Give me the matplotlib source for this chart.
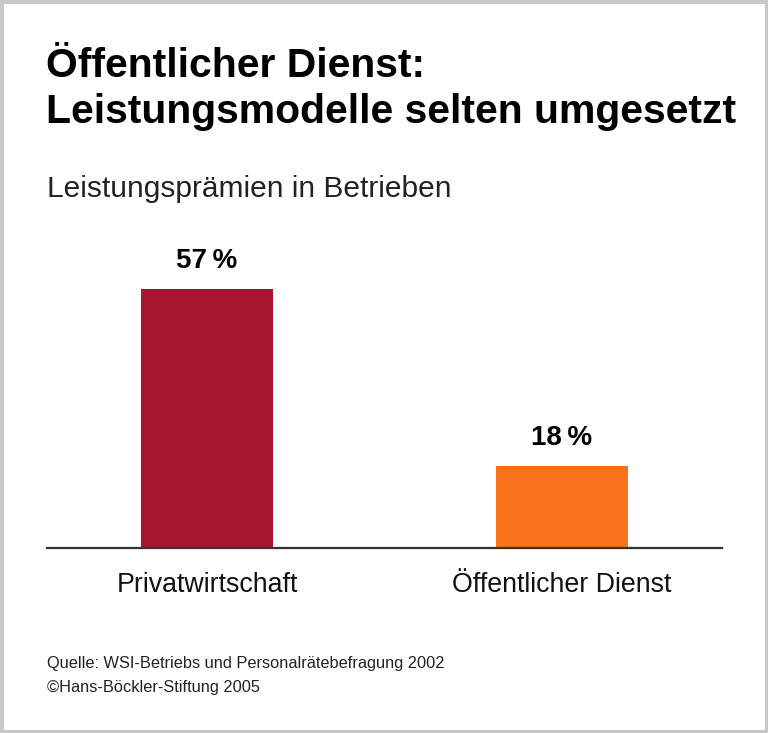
import matplotlib
matplotlib.use("Agg")
import matplotlib.pyplot as plt
from matplotlib.patches import Rectangle

categories = ["Privatwirtschaft", "Öffentlicher Dienst"]
values = [57, 18]
value_labels = ["57\u2009%", "18\u2009%"]
colors = ["#A8152E", "#F7731C"]

W, H = 768, 733
fig = plt.figure(figsize=(W / 100, H / 100), dpi=100)
plt.rcParams['font.family'] = ['Liberation Sans', 'DejaVu Sans']

def px(x, y):
    return x / W, 1 - y / H

# border
fig.patches.append(Rectangle((0, 0), 1, 1, transform=fig.transFigure,
                             facecolor="white", edgecolor="#C8C8C8", linewidth=5, zorder=-1))

# axes: x 47..722, baseline y 548, top y 230 (ylim 0..70)
left, right, bottom, top = 47, 722, 548, 230
ax = fig.add_axes([left / W, 1 - bottom / H, (right - left) / W, (bottom - top) / H])
ax.set_xlim(-0.4507, 1.4507)
ax.set_ylim(0, 70)
x = list(range(len(categories)))
ax.bar(x, values, width=0.372, color=colors)
for s in ["top", "right", "left"]:
    ax.spines[s].set_visible(False)
ax.spines["bottom"].set_color("#333333")
ax.spines["bottom"].set_linewidth(1.6)
ax.set_yticks([])
ax.set_xticks(x)
ax.set_xticklabels(categories, fontsize=19.3, color="#111111")
ax.tick_params(axis="x", length=0, pad=17)
for xi, v, lab in zip(x, values, value_labels):
    ax.annotate(lab, (xi, v), xytext=(0, 15), textcoords="offset points",
                ha="center", va="baseline", fontsize=20, fontweight="bold")
ax.patch.set_alpha(0)

fig.text(*px(46, 77), "Öffentlicher Dienst:", fontsize=29.4, fontweight="bold", va="baseline")
fig.text(*px(46, 123), "Leistungsmodelle selten umgesetzt", fontsize=29.4, fontweight="bold", va="baseline")
fig.text(*px(47, 197), "Leistungsprämien in Betrieben", fontsize=21.5, va="baseline", color="#222222")
fig.text(*px(47, 668), "Quelle: WSI-Betriebs und Personalrätebefragung 2002", fontsize=11.8, va="baseline", color="#222222")
fig.text(*px(47, 692), "©Hans-Böckler-Stiftung 2005", fontsize=11.8, va="baseline", color="#222222")

fig.savefig("out.png", dpi=100)
